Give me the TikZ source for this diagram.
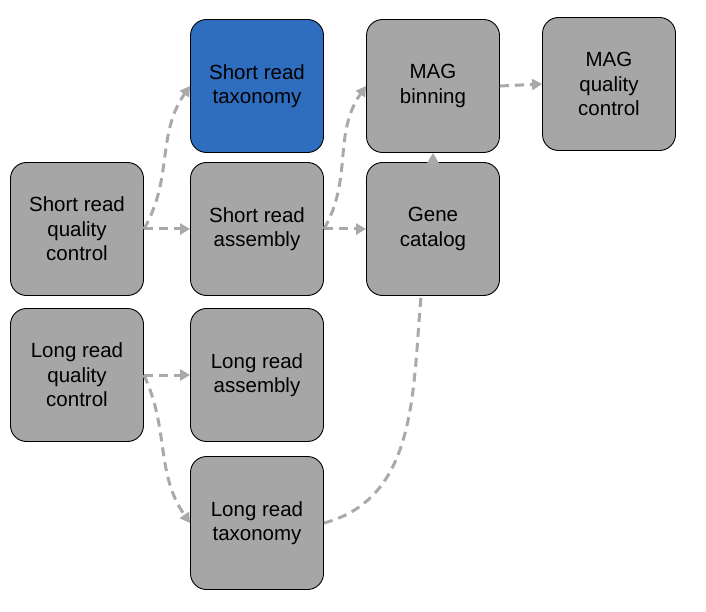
\documentclass[tikz,border=0pt]{standalone}
\usepackage{fontspec}
\setmainfont{Liberation Sans}
\usetikzlibrary{arrows.meta}
\definecolor{boxgray}{HTML}{A6A6A6}
\definecolor{boxblue}{HTML}{2F6DBE}
\definecolor{linkgray}{HTML}{A9A9A9}
\tikzset{
  stage/.style={draw=black, line width=0.9pt, fill=boxgray, rounded corners=16pt,
    minimum width=133pt, minimum height=133pt, align=center, inner sep=0pt,
    font=\fontsize{20.5}{24.5}\selectfont},
  flow/.style={linkgray, line width=3pt, dash pattern=on 9pt off 6pt,
    -{Triangle[length=10pt,width=11pt]}},
}
\begin{document}
\begin{tikzpicture}[x=1pt,y=-1pt]
\useasboundingbox (0,0) rectangle (706,612);
\node[stage] (srqc) at (77,229) {Short read\\quality\\control};
\node[stage] (lrqc) at (77,375) {Long read\\quality\\control};
\node[stage, fill=boxblue] (srtax) at (257,86) {Short read\\taxonomy};
\node[stage] (sra) at (257,229) {Short read\\assembly};
\node[stage] (lra) at (257,375) {Long read\\assembly};
\node[stage] (lrtax) at (257,523) {Long read\\taxonomy};
\node[stage] (mag) at (433,86) {MAG\\binning};
\node[stage] (gene) at (433,229) {Gene\\catalog};
\node[stage] (magqc) at (609,84) {MAG\\quality\\control};
\draw[flow] (srqc.east) -- (sra.west);
\draw[flow] (srqc.east) to[out=60,in=235] (srtax.west);
\draw[flow] (lrqc.east) -- (lra.west);
\draw[flow] (lrqc.east) to[out=-65,in=125] (lrtax.west);
\draw[flow] (sra.east) -- (gene.west);
\draw[flow] (sra.east) to[out=60,in=235] (mag.west);
\draw[flow] (gene.north) -- (mag.south);
\draw[flow, -] (lrtax.east) to[out=15,in=-95] ([xshift=-12pt]gene.south);
\draw[flow] (mag.east) -- (magqc.west);
\end{tikzpicture}
\end{document}
